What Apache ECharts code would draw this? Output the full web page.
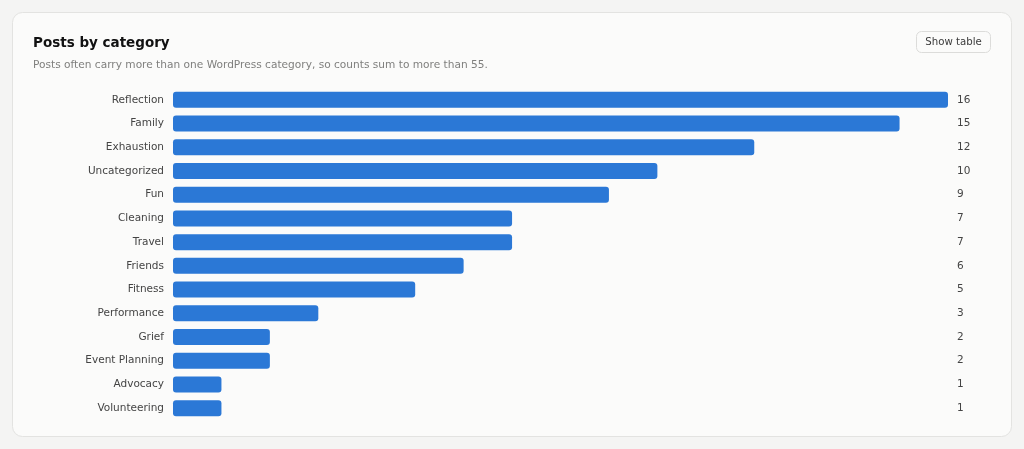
<!DOCTYPE html>
<html>
<head>
<meta charset="utf-8">
<style>
html,body{margin:0;padding:0;background:#f4f4f3;}
#chart{width:1024px;height:449px;}
</style>
<script src="https://cdn.jsdelivr.net/npm/echarts@6/dist/echarts.min.js"></script>
</head>
<body>
<div id="chart"></div>
<script>
const categories = ["Reflection","Family","Exhaustion","Uncategorized","Fun","Cleaning","Travel","Friends","Fitness","Performance","Grief","Event Planning","Advocacy","Volunteering"];
const counts = [16,15,12,10,9,7,7,6,5,3,2,2,1,1];
const titleText = "Posts by category";
const subtitleText = "Posts often carry more than one WordPress category, so counts sum to more than 55.";
const buttonText = "Show table";

const chart = echarts.init(document.getElementById('chart'), null, {renderer:'canvas'});
const font = "'DejaVu Sans', sans-serif";
chart.setOption({
  backgroundColor: '#f4f4f3',
  animation: false,
  textStyle: {fontFamily: font},
  graphic: [
    {type:'rect', shape:{x:12.5,y:12.5,width:999,height:424,r:10}, style:{fill:'#fbfbfa', stroke:'#e3e3e1', lineWidth:1}, z:-10},
    {type:'rect', shape:{x:916.5,y:31.5,width:74,height:21,r:5}, style:{fill:'#fbfbfa', stroke:'#dcdcda', lineWidth:1}},
    {type:'text', x:953.5, y:42.5, style:{text:buttonText, font:"10.2px 'DejaVu Sans', sans-serif", fill:'#3a3a3a', align:'center', verticalAlign:'middle'}},
    {type:'text', x:33, y:43, style:{text:titleText, font:"bold 13.5px 'DejaVu Sans', sans-serif", fill:'#111', align:'left', verticalAlign:'middle'}},
    {type:'text', x:33, y:65, style:{text:subtitleText, font:"10.6px 'DejaVu Sans', sans-serif", fill:'#7f7f7d', align:'left', verticalAlign:'middle'}}
  ],
  grid: {left: 173, right: 76, top: 88, height: 332, containLabel: false},
  xAxis: {type:'value', min:0, max:16, show:false},
  yAxis: [
    {type:'category', data: categories, inverse:true,
     axisLine:{show:false}, axisTick:{show:false},
     axisLabel:{fontFamily:font, fontSize:10.5, color:'#444', margin:9}},
    {type:'category', data: counts.map(String), inverse:true, position:'right',
     axisLine:{show:false}, axisTick:{show:false},
     axisLabel:{fontFamily:font, fontSize:10.5, color:'#444', margin:9, align:'left'}}
  ],
  series: [{
    type:'bar', data: counts, barWidth:16,
    itemStyle:{color:'#2b78d6', borderRadius:3},
    silent:true
  }]
});
</script>
</body>
</html>
